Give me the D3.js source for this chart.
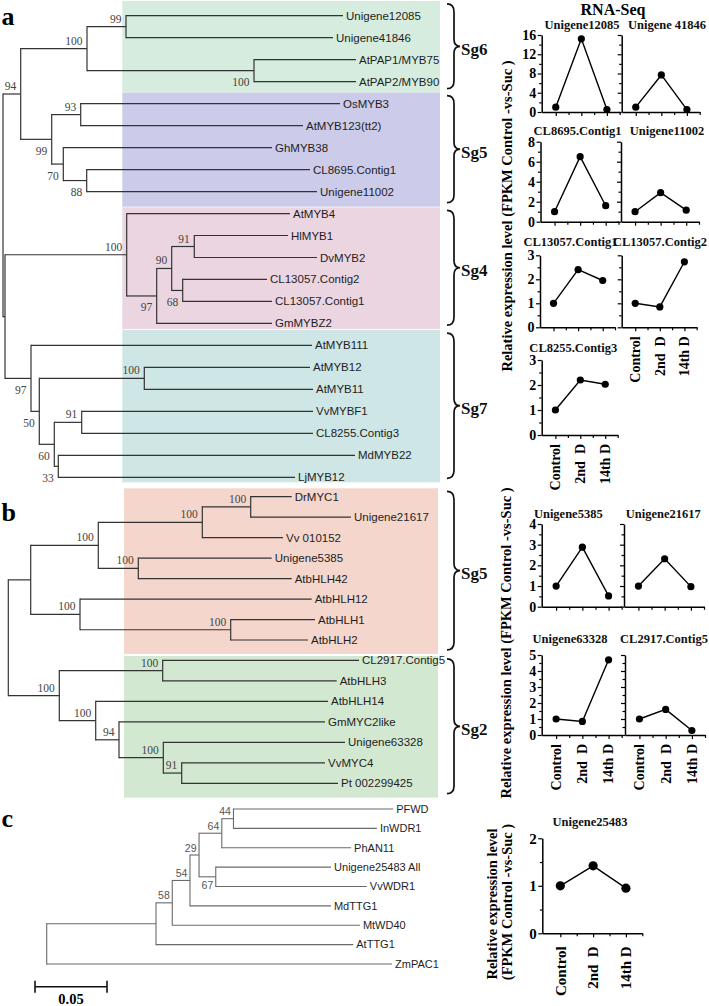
<!DOCTYPE html>
<html><head><meta charset="utf-8">
<script src="https://cdn.jsdelivr.net/npm/d3@7"></script>
<style>
html,body{margin:0;padding:0;background:#fff;}
svg{display:block;}
</style></head>
<body>
<svg id="fig" width="709" height="1006"></svg>
<script>
// ================= DATA =================
// Phylogenetic trees (Newick; internal labels = bootstrap, suffix "v" = label drawn under the node)
const treeA = "((((Unigene12085:217,Unigene41846:207)99:39,('AtPAP1/MYB75':102,'AtPAP2/MYB90':102)100v:167)100:66.3,((OsMYB3:259.3,'AtMYB123(tt2)':222.3)93:29,(GhMYB38:208.7,(CL8695.Contig1:223.3,Unigene11002:230.3)88v:23.4)70v:11.6)99v:31)94:17.7,((AtMYB4:163.3,(((HlMYB1:93.7,DvMYB2:122.7)91:22.6,(CL13057.Contig2:84.3,CL13057.Contig1:89.3)68v:11)90:15,GmMYBZ2:115.3)97v:30)100:121.7,(AtMYB111:281,((AtMYB12:165.7,AtMYB11:168.7)100:105,((VvMYBF1:231.3,CL8255.Contig3:231.3)91:27.4,(MdMYB22:296.7,LjMYB12:236.7)33v:4)60v:15)50v:8.3)97v:26):2);";
const treeB = "(((((DrMYC1:41,Unigene21617:100.3)100:48.4,'Vv 010152':80.7)100:104,(Unigene5385:133.4,AtbHLH42:153.4)100:40)100:67.6,(AtbHLH12:231.7,(AtbHLH1:84.3,AtbHLH2:77.3)100:150.7)100:49.3):22.4,((CL2917.Contig5:196.3,AtbHLH3:174)100:103.4,(AtbHLH14:232.3,(GmMYC2like:206,(Unigene63328:181.7,(VvMYC4:143.3,'Pt 002299425':156.3)91:18.4)100:44.3)94:23.3)100:36.4)100:51);";
const treeC = "(((((((PFWD:0.1109,InWDR1:0.0996)44:0.0081,PhAN11:0.0898)64:0.0158,('Unigene25483 All':0.0801,VvWDR1:0.1049)67v:0.0116)29:0.0063,MdTTG1:0.0979)54:0.0123,MtWD40:0.1303)58:0.0113,AtTTG1:0.137):0.0759,ZmPAC1:0.2398);";
const scaleBarValue = 0.05;

// Subgroups (leaf-index spans of the shaded boxes)
const groupsA = ["Sg6", "Sg5", "Sg4", "Sg7"];
const groupSpansA = [[-0.67, 3.5], [3.5, 8.69], [8.72, 14.26], [14.3, 21.23]];
const groupColorsA = ["#d5ecde", "#cccbea", "#ebd5e1", "#cee6e5"];
const groupsB = ["Sg5", "Sg2"];
const groupSpansB = [[-0.41, 7.68], [7.78, 14.7]];
const groupColorsB = ["#f4d6cd", "#d3e8d0"];

// RNA-Seq expression (relative FPKM, Control = 1)
const conditions = ["Control", "2nd  D", "14th D"];
const genesA = ["Unigene12085", "Unigene 41846", "CL8695.Contig1", "Unigene11002", "CL13057.Contig1", "CL13057.Contig2", "CL8255.Contig3"];
const exprA = [[1, 15.2, 0.5], [1, 7.7, 0.5], [1, 6.5, 1.6], [1, 2.9, 1.15], [1, 2.4, 1.95], [1, 0.85, 2.73], [1, 2.2, 2.03]];
const yMaxA = [16, 16, 8, 8, 3, 3, 3];
const yStepA = [4, 4, 2, 2, 1, 1, 1];
const genesB = ["Unigene5385", "Unigene21617", "Unigene63328", "CL2917.Contig5"];
const exprB = [[1, 2.88, 0.52], [1, 2.32, 0.97], [1, 0.85, 4.7], [1, 1.6, 0.28]];
const yMaxB = [4, 4, 5, 5];
const yStepB = [1, 1, 1, 1];
const genesC = ["Unigene25483"];
const exprC = [[1, 1.42, 0.95]];
const yMaxC = [2];
const yStepC = [1];
const yTitle = "Relative expression level (FPKM Control -vs-Suc )";

// ================= LAYOUT =================
const SERIF = "'Liberation Serif','Times New Roman',serif";
const SANS = "'Liberation Sans',Arial,sans-serif";
const svg = d3.select("#fig");

const layoutA = [
  {x0: 541.7, w: 78, y0: 112, y1: 35, tx: 582, ty: 29, yl: true},
  {x0: 621.7, w: 78, y0: 112, y1: 35, tx: 667, ty: 29},
  {x0: 540.5, w: 78, y0: 221.7, y1: 141.7, tx: 577.5, ty: 135, yl: true},
  {x0: 621, w: 78, y0: 221.7, y1: 141.7, tx: 667, ty: 135},
  {x0: 540, w: 75, y0: 327.3, y1: 255.3, tx: 570.5, ty: 246, yl: true},
  {x0: 621.7, w: 75, y0: 327.3, y1: 255.3, tx: 660, ty: 246, xl: true},
  {x0: 541.7, w: 76, y0: 435, y1: 360, tx: 573.3, ty: 352, yl: true, xl: true}
];
const layoutB = [
  {x0: 541.7, w: 80, y0: 606.7, y1: 524, tx: 568.3, ty: 518, yl: true},
  {x0: 624, w: 80, y0: 606.7, y1: 524, tx: 663.3, ty: 518},
  {x0: 541.7, w: 80, y0: 735, y1: 655, tx: 570, ty: 643, yl: true, xl: true},
  {x0: 625, w: 80, y0: 735, y1: 655, tx: 664, ty: 643, xl: true}
];
const layoutC = [
  {x0: 542.3, w: 100, y0: 933.3, y1: 838.3, tx: 590, ty: 826, yl: true, xl: true, r: 4.6, fs: 15, xoff: 13}
];

// ================= HELPERS =================
function parseNewick(s) {
  let i = 0;
  function node() {
    const n = {};
    if (s[i] === "(") {
      n.children = [];
      i++;
      n.children.push(node());
      while (s[i] === ",") { i++; n.children.push(node()); }
      i++;
    }
    let name = "";
    if (s[i] === "'") { i++; while (s[i] !== "'") name += s[i++]; i++; }
    else while (i < s.length && !":,();".includes(s[i])) name += s[i++];
    n.name = name;
    n.length = 0;
    if (s[i] === ":") {
      i++; let num = "";
      while (i < s.length && !",();".includes(s[i])) num += s[i++];
      n.length = +num;
    }
    return n;
  }
  return node();
}

function buildTree(newick, opt) {
  const root = d3.hierarchy(parseNewick(newick), d => d.children);
  root.each(d => { d.dist = d.parent ? d.parent.dist + d.data.length : 0; });
  const leaves = root.leaves();
  const y = d3.scaleLinear().domain([0, leaves.length - 1]).range(opt.yRange);
  const x = d3.scaleLinear().domain([0, opt.unit]).range([opt.x0, opt.x0 + opt.unitPx]);
  leaves.forEach((d, i) => d.py = y(i));
  root.eachAfter(d => { if (d.children) d.py = (d.children[0].py + d.children[d.children.length - 1].py) / 2; });
  return {root, leaves, x, y};
}

function drawTree(g, T, st) {
  const {root, leaves, x} = T;
  g.selectAll("line.h").data(root.descendants().filter(d => d.parent)).join("line")
    .attr("class", "h")
    .attr("x1", d => x(d.parent.dist)).attr("x2", d => x(d.dist))
    .attr("y1", d => d.py).attr("y2", d => d.py)
    .attr("stroke", st.stroke).attr("stroke-width", st.sw);
  g.selectAll("line.v").data(root.descendants().filter(d => d.children)).join("line")
    .attr("class", "v")
    .attr("x1", d => x(d.dist)).attr("x2", d => x(d.dist))
    .attr("y1", d => d.children[0].py - st.sw / 2).attr("y2", d => d.children[d.children.length - 1].py + st.sw / 2)
    .attr("stroke", st.stroke).attr("stroke-width", st.sw);
  g.selectAll("text.leaf").data(leaves).join("text")
    .attr("class", "leaf")
    .attr("x", d => x(d.dist) + 3).attr("y", d => d.py).attr("dy", "0.35em")
    .attr("font-family", SANS).attr("font-size", st.leafFs).attr("fill", "#1e1e1e")
    .text(d => d.data.name);
  const boots = root.descendants().filter(d => d.children && d.data.name);
  g.selectAll("text.boot").data(boots).join("text")
    .attr("class", "boot")
    .attr("x", d => x(d.dist) - st.bdx)
    .attr("y", d => d.data.name.endsWith("v") ? d.py + st.below : d.py - st.above)
    .attr("text-anchor", "end")
    .attr("font-family", st.bootFont).attr("font-size", st.bootFs).attr("fill", st.bootFill)
    .text(d => d.data.name.replace("v", ""));
}

function bracePath(x, yTop, yBot) {
  const xm = x + 7, xt = x + 13, mid = (yTop + yBot) / 2;
  return `M${x},${yTop} Q${xm},${yTop} ${xm},${yTop + 8} L${xm},${mid - 7} Q${xm},${mid} ${xt},${mid} Q${xm},${mid} ${xm},${mid + 7} L${xm},${yBot - 8} Q${xm},${yBot} ${x},${yBot}`;
}

function drawGroups(g, T, names, spans, colors, box) {
  const ys = T.y;
  names.forEach((nm, i) => {
    const top = ys(spans[i][0]), bot = ys(spans[i][1]);
    g.append("rect").attr("x", box.left).attr("y", top)
      .attr("width", box.right - box.left).attr("height", bot - top)
      .attr("fill", colors[i]);
    g.append("path").attr("d", bracePath(box.brace, top + 3, bot - 4))
      .attr("fill", "none").attr("stroke", "#111").attr("stroke-width", 1.7);
    g.append("text").attr("x", box.brace + 14).attr("y", (top + bot) / 2 + 2).attr("dy", "0.35em")
      .attr("font-family", SERIF).attr("font-weight", "bold").attr("font-size", 17).attr("fill", "#111")
      .text(nm);
  });
}

function drawChart(g, name, vals, yMax, yStep, L) {
  const x = d3.scaleLinear().domain([-0.55, 2.5]).range([L.x0, L.x0 + L.w]);
  const y = d3.scaleLinear().domain([0, yMax]).range([L.y0, L.y1]);
  const fs = L.fs || 14;
  const majors = d3.range(0, yMax + 1e-9, yStep);
  const minors = d3.range(yStep / 2, yMax, yStep);
  // title
  g.append("text").attr("x", L.tx).attr("y", L.ty).attr("text-anchor", "middle")
    .attr("font-family", SERIF).attr("font-weight", "bold").attr("font-size", 12.5).attr("fill", "#111")
    .text(name);
  // y axis
  const ya = g.append("g").attr("transform", `translate(${L.x0},0)`)
    .call(d3.axisLeft(y).tickValues(majors).tickSize(4).tickSizeOuter(0).tickPadding(1.5)
      .tickFormat(L.yl ? d3.format("d") : ""));
  const ym = g.append("g").attr("transform", `translate(${L.x0},0)`)
    .call(d3.axisLeft(y).tickValues(minors).tickSize(2.5).tickFormat(""));
  ym.select(".domain").remove();
  // x axis
  const xa = g.append("g").attr("transform", `translate(0,${L.y0})`)
    .call(d3.axisBottom(x).tickValues([0, 1, 2]).tickSize(4).tickSizeOuter(0).tickFormat(""));
  const xm = g.append("g").attr("transform", `translate(0,${L.y0})`)
    .call(d3.axisBottom(x).tickValues([0.5, 1.5, 2.5]).tickSize(3).tickFormat(""));
  xm.select(".domain").remove();
  [ya, ym, xa, xm].forEach(a => {
    a.attr("font-family", SERIF).attr("font-size", fs).attr("font-weight", "bold");
    a.selectAll("path").attr("stroke", "#000").attr("stroke-width", 1.5);
    a.selectAll("line").attr("stroke", "#000").attr("stroke-width", 1.2);
    a.selectAll("text").attr("fill", "#000");
  });
  // line + points
  g.append("path").datum(vals)
    .attr("d", d3.line().x((d, i) => x(i)).y(d => y(d)))
    .attr("fill", "none").attr("stroke", "#000").attr("stroke-width", 1.4);
  g.selectAll("circle.pt").data(vals).join("circle").attr("class", "pt")
    .attr("cx", (d, i) => x(i)).attr("cy", d => y(d)).attr("r", L.r || 3.6).attr("fill", "#000");
  // x labels
  if (L.xl) {
    g.selectAll("text.xl").data(conditions).join("text").attr("class", "xl")
      .attr("transform", (d, i) => `translate(${x(i)},${L.y0 + (L.xoff || 9)}) rotate(-90)`)
      .attr("dy", "0.35em").attr("text-anchor", "end")
      .attr("font-family", SERIF).attr("font-weight", "bold").attr("font-size", fs)
      .style("white-space", "pre").attr("fill", "#000")
      .text(d => d);
  }
}

function vText(g, txt, cx, cy, fs) {
  g.append("text").attr("transform", `translate(${cx},${cy}) rotate(-90)`)
    .attr("dy", "0.35em").attr("text-anchor", "middle")
    .attr("font-family", SERIF).attr("font-weight", "bold").attr("font-size", fs).attr("fill", "#000")
    .text(txt);
}

// ================= TREES =================
const TA = buildTree(treeA, {x0: 3, unit: 1, unitPx: 1, yRange: [15.7, 477.3]});
const TB = buildTree(treeB, {x0: 8.3, unit: 1, unitPx: 1, yRange: [496.7, 783.3]});
const TC = buildTree(treeC, {x0: 46.7, unit: scaleBarValue, unitPx: 72, yRange: [809, 964]});

const gBox = svg.append("g");
drawGroups(gBox, TA, groupsA, groupSpansA, groupColorsA, {left: 122.3, right: 440, brace: 447});
drawGroups(gBox, TB, groupsB, groupSpansB, groupColorsB, {left: 124, right: 438, brace: 447});

const abStyle = {stroke: "#333", sw: 1.2, leafFs: 11.5, bootFont: SERIF, bootFs: 11.5, bootFill: "#444", bdx: 4.5, above: 4, below: 15.5};
drawTree(svg.append("g"), TA, abStyle);
drawTree(svg.append("g"), TB, abStyle);
drawTree(svg.append("g"), TC, {stroke: "#6a6a6a", sw: 1.1, leafFs: 11, bootFont: SANS, bootFs: 10.5, bootFill: "#555", bdx: 2.5, above: 3.5, below: 12.5});

// scale bar
const sbx0 = 35, sby = 986.7;
const sbx1 = sbx0 + (TC.x(scaleBarValue) - TC.x(0));
const gsb = svg.append("g").attr("stroke", "#111").attr("stroke-width", 1.6);
gsb.append("line").attr("x1", sbx0).attr("x2", sbx1).attr("y1", sby).attr("y2", sby);
gsb.append("line").attr("x1", sbx0).attr("x2", sbx0).attr("y1", sby - 6).attr("y2", sby + 6);
gsb.append("line").attr("x1", sbx1).attr("x2", sbx1).attr("y1", sby - 6).attr("y2", sby + 6);
svg.append("text").attr("x", (sbx0 + sbx1) / 2).attr("y", 1004).attr("text-anchor", "middle")
  .attr("font-family", SERIF).attr("font-weight", "bold").attr("font-size", 14.5).text(String(scaleBarValue));

// panel letters
[["a", 25], ["b", 521], ["c", 827]].forEach(([t, yy]) => {
  svg.append("text").attr("x", 1.5).attr("y", yy).attr("font-family", SERIF).attr("font-weight", "bold")
    .attr("font-size", 26).attr("fill", "#000").text(t);
});

// ================= CHARTS =================
svg.append("text").attr("x", 613).attr("y", 14.5).attr("text-anchor", "middle")
  .attr("font-family", SERIF).attr("font-weight", "bold").attr("font-size", 16).text("RNA-Seq");

const gCh = svg.append("g");
genesA.forEach((gn, i) => drawChart(gCh.append("g"), gn, exprA[i], yMaxA[i], yStepA[i], layoutA[i]));
genesB.forEach((gn, i) => drawChart(gCh.append("g"), gn, exprB[i], yMaxB[i], yStepB[i], layoutB[i]));
genesC.forEach((gn, i) => drawChart(gCh.append("g"), gn, exprC[i], yMaxC[i], yStepC[i], layoutC[i]));

vText(svg, yTitle, 507, 216, 14.5);
vText(svg, yTitle, 506, 643, 14.5);
vText(svg, "Relative expression level", 492, 904, 14.5);
vText(svg, "(FPKM Control -vs-Suc )", 507, 902, 14.5);
</script>
</body></html>
